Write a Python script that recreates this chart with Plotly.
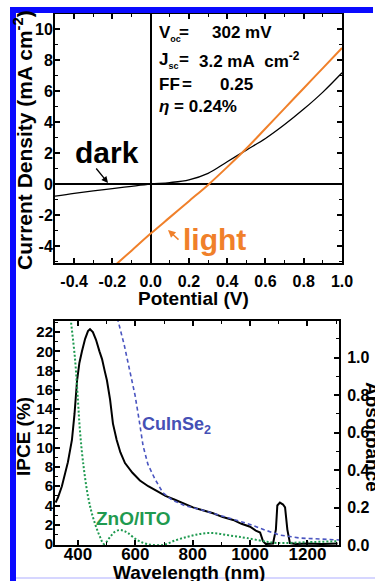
import plotly.graph_objects as go

# ---------------- data ----------------
iv_dark_v = [-0.5, -0.4, -0.3, -0.2, -0.1, 0.0, 0.1, 0.2, 0.3, 0.4, 0.5, 0.6, 0.7, 0.8, 0.9, 1.0]
iv_dark_j = [-0.78, -0.6, -0.44, -0.29, -0.14, 0.0, 0.1, 0.28, 0.7, 1.45, 2.2, 2.95, 3.85, 4.85, 5.95, 7.2]

iv_light_v = [-0.2, -0.1, 0.0, 0.1, 0.2, 0.3, 0.4, 0.5, 0.6, 0.7, 0.8, 0.9, 1.0]
iv_light_j = [-5.4, -4.3, -3.2, -2.15, -1.1, -0.05, 1.1, 2.3, 3.6, 4.9, 6.2, 7.5, 8.8]

ipce_nm = [322, 330, 344, 355, 365, 379, 388, 397, 405, 414, 425, 435, 442, 452, 463, 475, 484, 493, 501,
           512, 522, 535, 548, 564, 590, 616, 645, 676, 705, 738, 770, 801, 835, 871, 905, 941, 970, 1000,
           1020, 1035, 1045, 1055, 1080, 1090, 1095, 1104, 1115, 1122, 1130, 1139, 1160, 1200, 1250, 1305]
ipce_val = [4.3, 4.8, 6.0, 7.2, 8.5, 10.8, 13.5, 17.0, 18.8, 20.0, 21.3, 22.1, 22.3, 22.0, 21.2, 20.0, 19.2, 18.0, 17.0,
            15.0, 12.5, 10.8, 9.5, 8.4, 7.4, 6.6, 6.0, 5.5, 5.0, 4.6, 4.2, 3.8, 3.5, 3.2, 2.8, 2.5, 2.1, 1.8,
            1.4, 1.2, 0.3, 0.0, 0.05, 1.5, 4.0, 4.3, 4.1, 3.8, 1.5, 0.1, 0.0, 0.05, 0.0, 0.05]

cis_nm = [535, 540, 561, 581, 599, 613, 627, 644, 669, 696, 728, 773, 825, 913, 1000, 1052, 1104, 1174, 1310]
cis_abs = [1.25, 1.196, 1.07, 0.93, 0.80, 0.67, 0.53, 0.43, 0.35, 0.28, 0.24, 0.21, 0.19, 0.15, 0.11, 0.08, 0.053, 0.037, 0.027]

zno_nm = [372, 376, 390, 400, 407, 418, 435, 452, 477, 491, 512, 530, 547, 560, 574, 606, 641, 696, 740, 780,
          815, 850, 885, 920, 955, 989, 1045, 1094, 1200, 1305]
zno_abs = [1.25, 1.19, 0.99, 0.77, 0.61, 0.44, 0.26, 0.15, 0.043, 0.005, 0.043, 0.072, 0.08, 0.075, 0.064, 0.027, 0.005, 0.0, 0.025, 0.043,
           0.056, 0.064, 0.062, 0.053, 0.045, 0.037, 0.021, 0.011, 0.015, 0.02]

iv_xticks = [-0.4, -0.2, 0.0, 0.2, 0.4, 0.6, 0.8, 1.0]
iv_xticktext = ["-0.4", "-0.2", "0.0", "0.2", "0.4", "0.6", "0.8", "1.0"]
iv_yticks = [-4, -2, 0, 2, 4, 6, 8, 10]
iv_yticktext = ["-4", "-2", "0", "2", "4", "6", "8", "10"]
wl_ticks = [400, 600, 800, 1000, 1200]
ipce_ticks = [0, 2, 4, 6, 8, 10, 12, 14, 16, 18, 20, 22]
abs_ticks = [0.0, 0.2, 0.4, 0.6, 0.8, 1.0, 1.2]
abs_ticktext = ["0.0", "0.2", "0.4", "0.6", "0.8", "1.0", "1.2"]

# ---------------- layout helpers ----------------
W, H = 375, 581
FONT = "Liberation Sans"


def px(x):
    return x / W


def py(y):
    return 1 - y / H


def axis(fs, standoff, **kw):
    d = dict(showline=True, linecolor="black", linewidth=2, ticks="inside", ticklen=5, tickwidth=1.5,
             tickcolor="black", showgrid=False, zeroline=False, tickmode="array",
             ticklabelstandoff=standoff,
             tickfont=dict(family=FONT, size=fs, color="black", weight="bold"))
    d.update(kw)
    return d


def minor(dt):
    return dict(ticks="inside", ticklen=3, tickwidth=1.2, tickcolor="black", tickmode="linear",
                dtick=dt, tick0=0, showgrid=False)


fig = go.Figure()
fig.add_trace(go.Scatter(x=iv_dark_v, y=iv_dark_j, mode="lines",
                         line=dict(color="black", width=1.3, shape="spline"), xaxis="x", yaxis="y"))
fig.add_trace(go.Scatter(x=iv_light_v, y=iv_light_j, mode="lines",
                         line=dict(color="#f0802a", width=2, shape="spline"), xaxis="x", yaxis="y"))
fig.add_trace(go.Scatter(x=ipce_nm, y=ipce_val, mode="lines",
                         line=dict(color="black", width=2), xaxis="x2", yaxis="y2"))
fig.add_trace(go.Scatter(x=cis_nm, y=cis_abs, mode="lines",
                         line=dict(color="#4a55c0", width=1.6, dash="4px,3px"), xaxis="x2", yaxis="y3"))
fig.add_trace(go.Scatter(x=zno_nm, y=zno_abs, mode="lines",
                         line=dict(color="#1f9a50", width=2, dash="2px,2px", shape="spline"), xaxis="x2", yaxis="y3"))

layout = dict(
    width=W, height=H, margin=dict(l=0, r=0, t=0, b=0, autoexpand=False), autosize=False,
    paper_bgcolor="white", plot_bgcolor="white", showlegend=False,
    xaxis=axis(16, 3, domain=[px(55), px(342)], anchor="y", range=[-0.5, 1.0], mirror="ticks",
               tickvals=iv_xticks, ticktext=iv_xticktext, minor=minor(0.1),
               zeroline=True, zerolinecolor="black", zerolinewidth=2),
    yaxis=axis(16, -3, domain=[py(263), py(14)], anchor="x", range=[-5.1, 11.0], mirror="ticks",
               tickvals=iv_yticks, ticktext=iv_yticktext, minor=minor(1),
               zeroline=True, zerolinecolor="black", zerolinewidth=2),
    xaxis2=axis(17, -7, domain=[px(55), px(339)], anchor="y2", range=[320, 1310], mirror="ticks",
                tickvals=wl_ticks, ticktext=[str(t) for t in wl_ticks], minor=minor(100)),
    yaxis2=axis(15, -3, domain=[py(545), py(321)], anchor="x2", range=[-0.1, 23.15],
                tickvals=ipce_ticks, ticktext=[str(t) for t in ipce_ticks], minor=minor(1)),
    yaxis3=axis(16, 3, overlaying="y2", side="right", anchor="x2", range=[0, 1.196],
                tickvals=abs_ticks, ticktext=abs_ticktext, minor=minor(0.1)),
)
fig.update_layout(**layout)


def note(text, x, y, size, color="black", xanchor="center", angle=0, yanchor="middle"):
    return dict(text=text, x=px(x), y=py(y), xref="paper", yref="paper", showarrow=False,
                xanchor=xanchor, yanchor=yanchor, textangle=angle,
                font=dict(family=FONT, size=size, color=color, weight="bold"))


NB = "\u00a0"
SUB = "<sub><span style='font-size:9px'>{}</span></sub>"
annotations = [
    note("Current Density (mA cm<sup>-2</sup>)", 23, 140, 21, angle=-90),
    note("Potential (V)", 193, 298, 19),
    note("V" + SUB.format("oc"), 157, 33, 17, xanchor="left"),
    note("=", 177, 32, 17, xanchor="left"),
    note("302 mV", 210, 32, 17, xanchor="left"),
    note("J" + SUB.format("sc"), 157, 61, 17, xanchor="left"),
    note("=", 177, 60, 17, xanchor="left"),
    note("3.2" + NB + "mA" + NB + NB + "cm<sup>-2</sup>", 197, 60, 17, xanchor="left"),
    note("FF", 157, 84, 17, xanchor="left"),
    note("=", 180, 84, 17, xanchor="left"),
    note("0.25", 218, 84, 17, xanchor="left"),
    note("<i>η</i> = 0.24%", 157, 107, 17, xanchor="left"),
    note("dark", 107, 152, 30),
    note("light", 214, 240, 30, color="#f0802a"),
    note("IPCE (%)", 23, 437, 19, angle=-90),
    note("Absorbance", 373, 437, 19, angle=90),
    note("Wavelength (nm)", 189, 572, 19),
    note("CuInSe<sub>2</sub>", 140, 426, 18, color="#4550b5", xanchor="left"),
    note("ZnO/ITO", 133, 518, 19, color="#1f9a50"),
    dict(text="", x=px(108), y=py(183), xref="paper", yref="paper", showarrow=True,
         ax=-13, ay=-16, arrowhead=2, arrowsize=1, arrowwidth=1.3, arrowcolor="black"),
    dict(text="", x=px(168), y=py(230), xref="paper", yref="paper", showarrow=True,
         ax=12, ay=11, arrowhead=2, arrowsize=1, arrowwidth=1.5, arrowcolor="#f0802a"),
]

shapes = [
    dict(type="rect", xref="paper", yref="paper", x0=px(10), x1=px(16), y0=py(581), y1=py(7),
         fillcolor="#0a0aff", line=dict(width=0), layer="above"),
    dict(type="rect", xref="paper", yref="paper", x0=px(10), x1=px(373), y0=py(13), y1=py(7),
         fillcolor="#0a0aff", line=dict(width=0), layer="above"),
    dict(type="line", xref="paper", yref="paper", x0=px(16), x1=px(375), y0=py(578), y1=py(578),
         line=dict(color="#c8c8ff", width=1.5), layer="above"),
]

fig.update_layout(annotations=annotations, shapes=shapes)
fig.write_html("out.html",
               config={"displayModeBar": False, "responsive": False},
               post_script="document.body.style.margin='0';")
